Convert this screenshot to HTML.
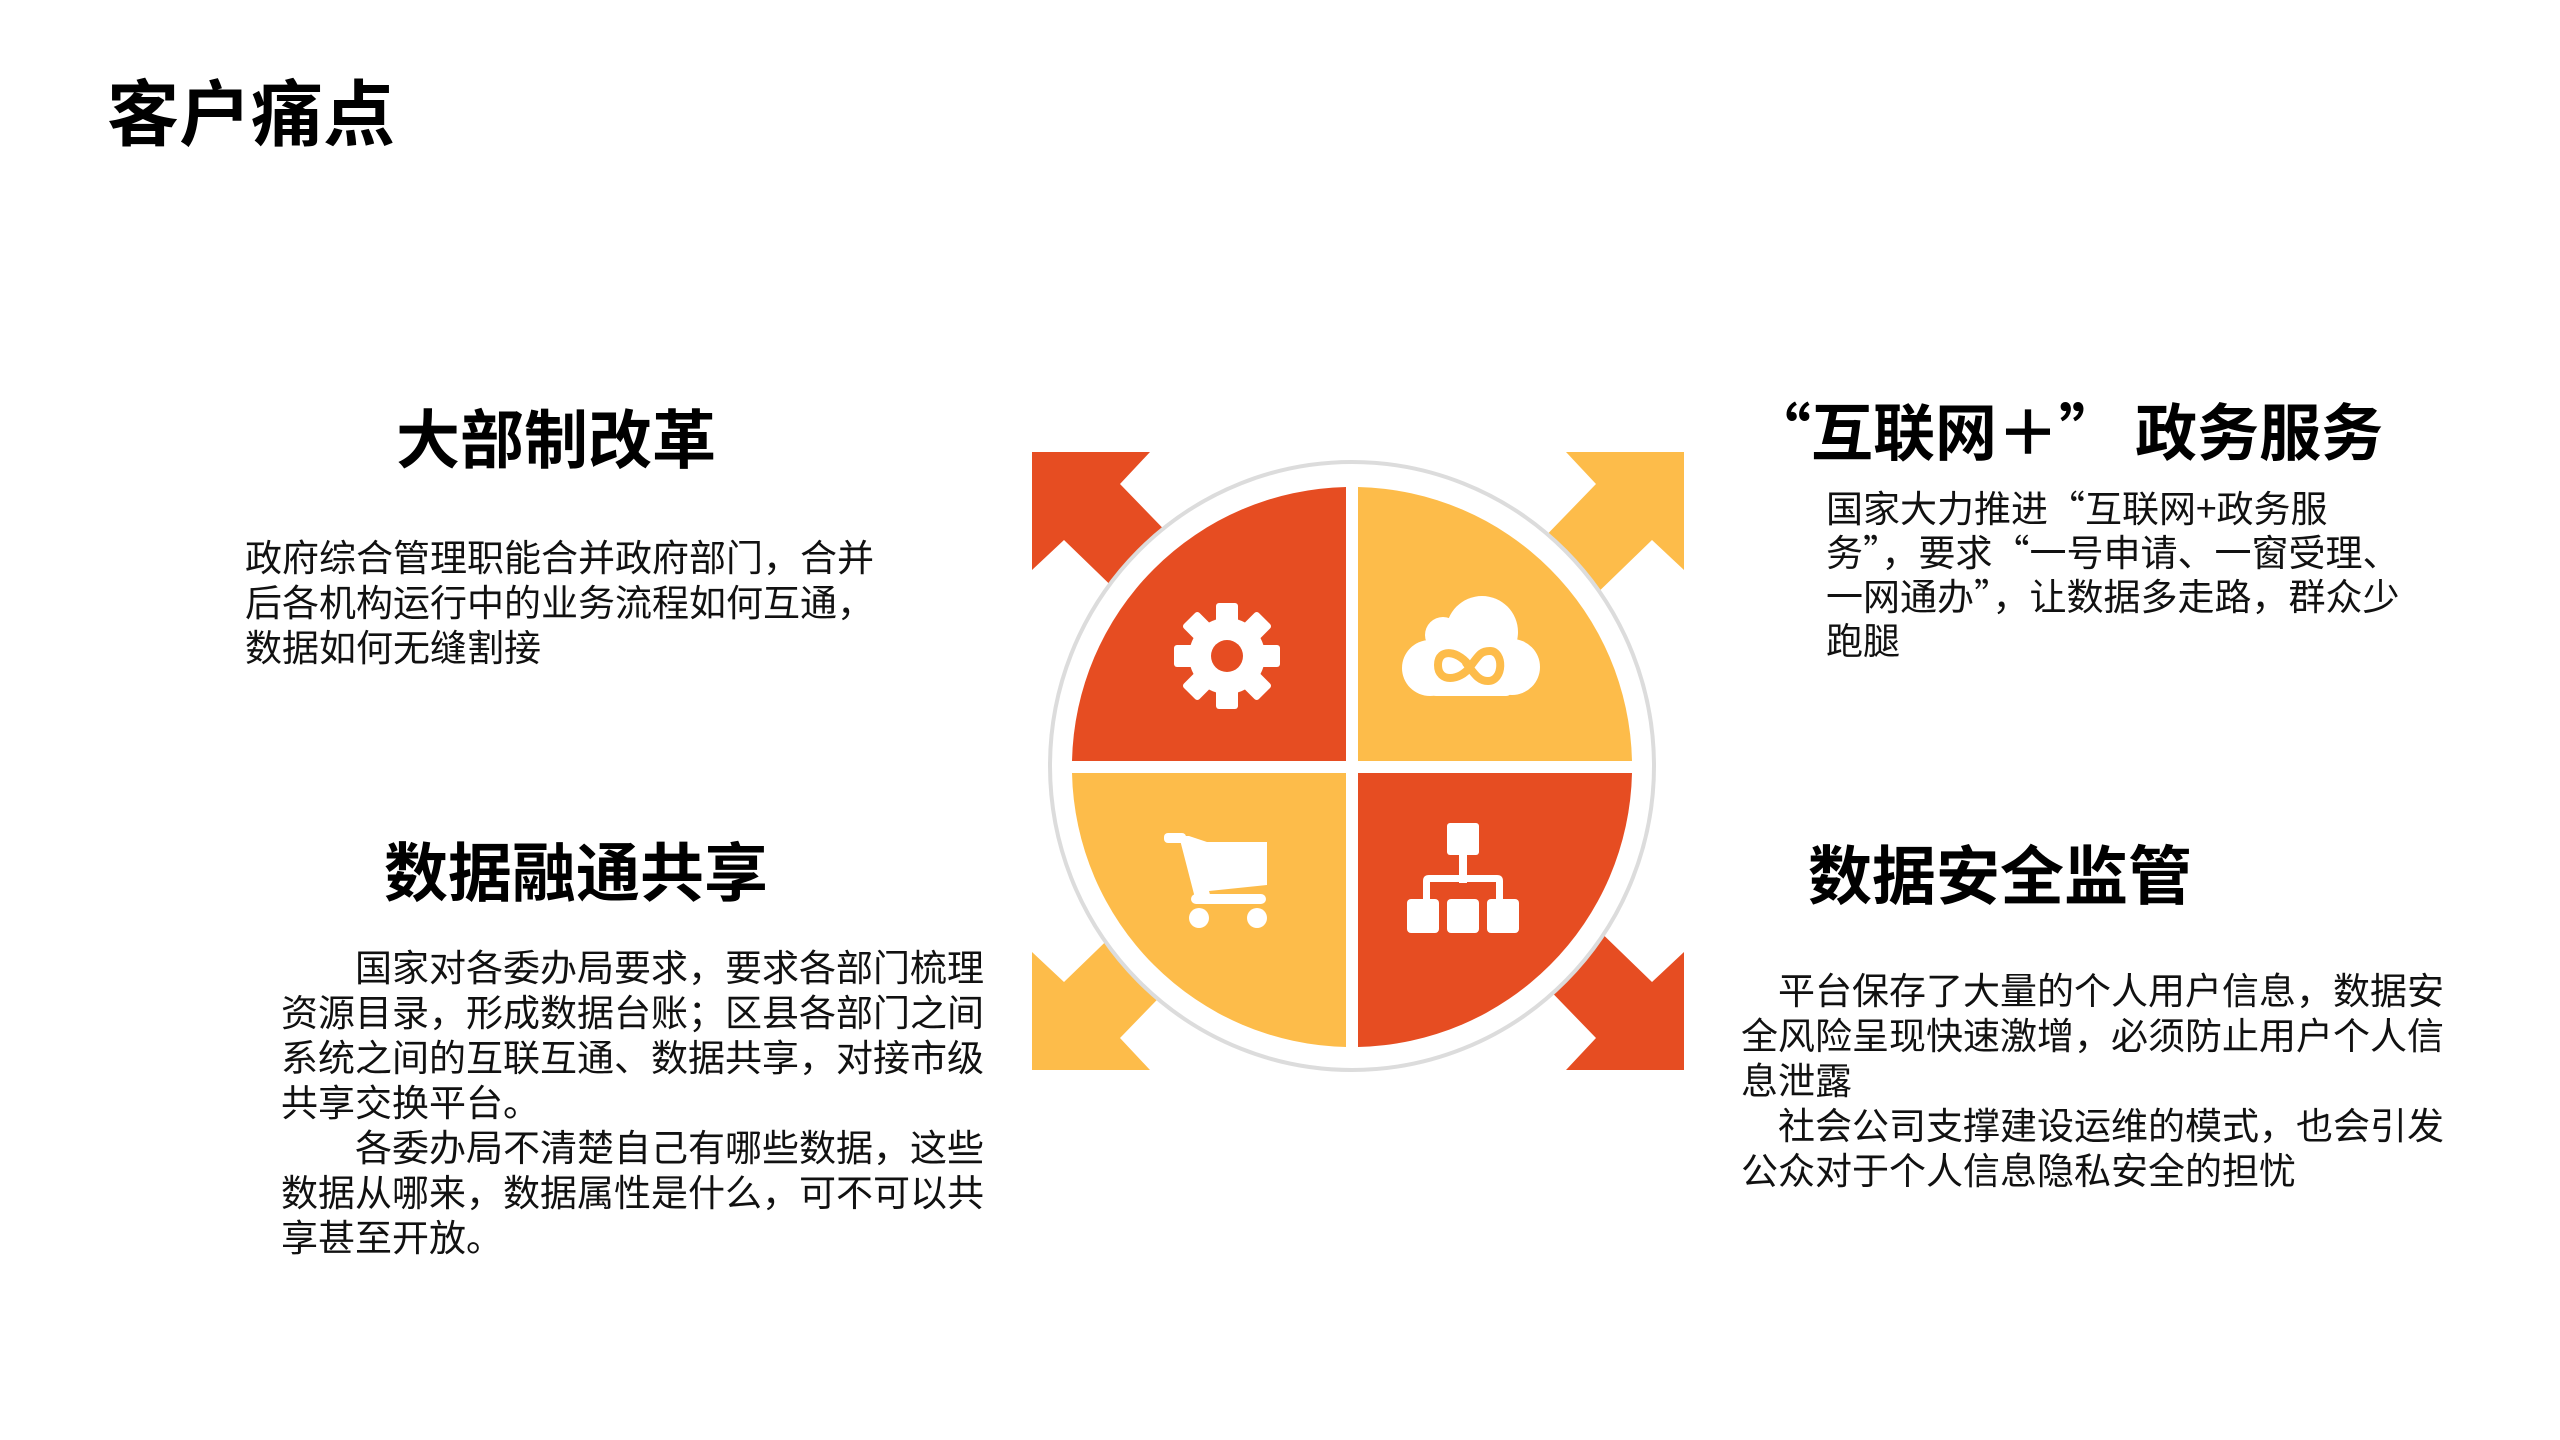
<!DOCTYPE html>
<html><head><meta charset="utf-8">
<style>
html,body{margin:0;padding:0;background:#fff;}
body{width:2560px;height:1440px;position:relative;overflow:hidden;font-family:"Liberation Sans","Noto Sans CJK SC",sans-serif;color:#111;}
.t{position:absolute;white-space:nowrap;}
.h{font-weight:700;color:#000;}
.b{font-size:37px;line-height:45px;}
.cjk{font-family:"Noto Sans CJK SC","Liberation Sans",sans-serif;}
</style></head><body>
<div class="t h" style="left:107px;top:74px;font-size:72px;line-height:84px;">客户痛点</div>

<div class="t h" style="left:396px;top:405px;font-size:64px;line-height:72px;">大部制改革</div>
<div class="t b" style="left:245px;top:536px;font-size:37px;">政府综合管理职能合并政府部门，合并<br>后各机构运行中的业务流程如何互通，<br>数据如何无缝割接</div>

<div class="t h cjk" style="left:1749px;top:386px;font-size:62px;line-height:84px;">“互联网＋” 政务服务</div>
<div class="t b cjk" style="left:1826px;top:484px;line-height:44px;">国家大力推进“互联网+政务服<br>务”，要求“一号申请、一窗受理、<br>一网通办”，让数据多走路，群众少<br>跑腿</div>

<div class="t h" style="left:384px;top:838px;font-size:64px;line-height:72px;">数据融通共享</div>
<div class="t b" style="left:281px;top:946px;">　　国家对各委办局要求，要求各部门梳理<br>资源目录，形成数据台账；区县各部门之间<br>系统之间的互联互通、数据共享，对接市级<br>共享交换平台。<br>　　各委办局不清楚自己有哪些数据，这些<br>数据从哪来，数据属性是什么，可不可以共<br>享甚至开放。</div>

<div class="t h" style="left:1808px;top:841px;font-size:64px;line-height:72px;">数据安全监管</div>
<div class="t b" style="left:1741px;top:969px;">　平台保存了大量的个人用户信息，数据安<br>全风险呈现快速激增，必须防止用户个人信<br>息泄露<br>　社会公司支撑建设运维的模式，也会引发<br>公众对于个人信息隐私安全的担忧</div>

<svg width="2560" height="1440" style="position:absolute;left:0;top:0" xmlns="http://www.w3.org/2000/svg">
<defs>
<polygon id="arr" points="0,0 118,0 88,32 150,96 96,150 32,88 0,118"/>
</defs>
<use href="#arr" fill="#E64D22" transform="translate(1032,452)"/>
<use href="#arr" fill="#FDBC4A" transform="translate(1684,452) scale(-1,1)"/>
<use href="#arr" fill="#FDBC4A" transform="translate(1032,1070) scale(1,-1)"/>
<use href="#arr" fill="#E64D22" transform="translate(1684,1070) scale(-1,-1)"/>
<ellipse cx="1352" cy="766" rx="302" ry="304" fill="#fff" stroke="#dcdcdc" stroke-width="4"/>
<path d="M1346,761 L1072,761 A280,280 0 0 1 1346,487 Z" fill="#E64D22"/>
<path d="M1358,761 L1358,487 A280,280 0 0 1 1632,761 Z" fill="#FDBC4A"/>
<path d="M1358,773 L1632,773 A280,280 0 0 1 1358,1047 Z" fill="#E64D22"/>
<path d="M1346,773 L1346,1047 A280,280 0 0 1 1072,773 Z" fill="#FDBC4A"/>
<g transform="translate(1227,656)" fill="#fff">
<circle r="38"/>
<rect x="-11" y="-53" width="22" height="106" rx="3"/>
<rect x="-11" y="-53" width="22" height="106" rx="3" transform="rotate(45)"/>
<rect x="-11" y="-53" width="22" height="106" rx="3" transform="rotate(90)"/>
<rect x="-11" y="-53" width="22" height="106" rx="3" transform="rotate(135)"/>
<circle r="16" fill="#E64D22"/>
</g>
<g transform="translate(1470,655)">
<g fill="#fff">
<circle cx="-40" cy="13" r="28"/>
<circle cx="-27" cy="-20" r="18"/>
<circle cx="12" cy="-23" r="36"/>
<circle cx="42" cy="12" r="28"/>
<rect x="-40" y="-5" width="82" height="46" rx="6"/>
</g>
<path d="M0,12 C-10,-4 -32,-8 -32,10 C-32,28 -10,26 0,12 C10,-2 12,-4 20,-4 C34,-4 34,26 18,26 C8,26 4,18 -4,8" fill="none" stroke="#FDBC4A" stroke-width="8" stroke-linecap="round"/>
</g>
<g transform="translate(1217,876)" fill="#fff">
<rect x="-53" y="-43" width="22" height="10" rx="4"/>
<path d="M-38,-40 L-28,-40 L-10,-34 L50,-34 L50,9 L-8,15 L-6,22 L-22,22 Z"/>
<rect x="-26" y="18" width="75" height="10" rx="5"/>
<circle cx="-18" cy="42" r="10"/>
<circle cx="40" cy="42" r="10"/>
</g>
<g transform="translate(1463,877)" fill="#fff">
<rect x="-16" y="-54" width="32" height="32" rx="3"/>
<rect x="-4" y="-24" width="8" height="30"/>
<path d="M-40,26 L-40,4 Q-40,-2 -34,-2 L34,-2 Q40,-2 40,4 L40,26 L33,26 L33,5 L-33,5 L-33,26 Z"/>
<rect x="-56" y="22" width="32" height="34" rx="4"/>
<rect x="-16" y="22" width="32" height="34" rx="4"/>
<rect x="24" y="22" width="32" height="34" rx="4"/>
</g>
</svg>
</body></html>
